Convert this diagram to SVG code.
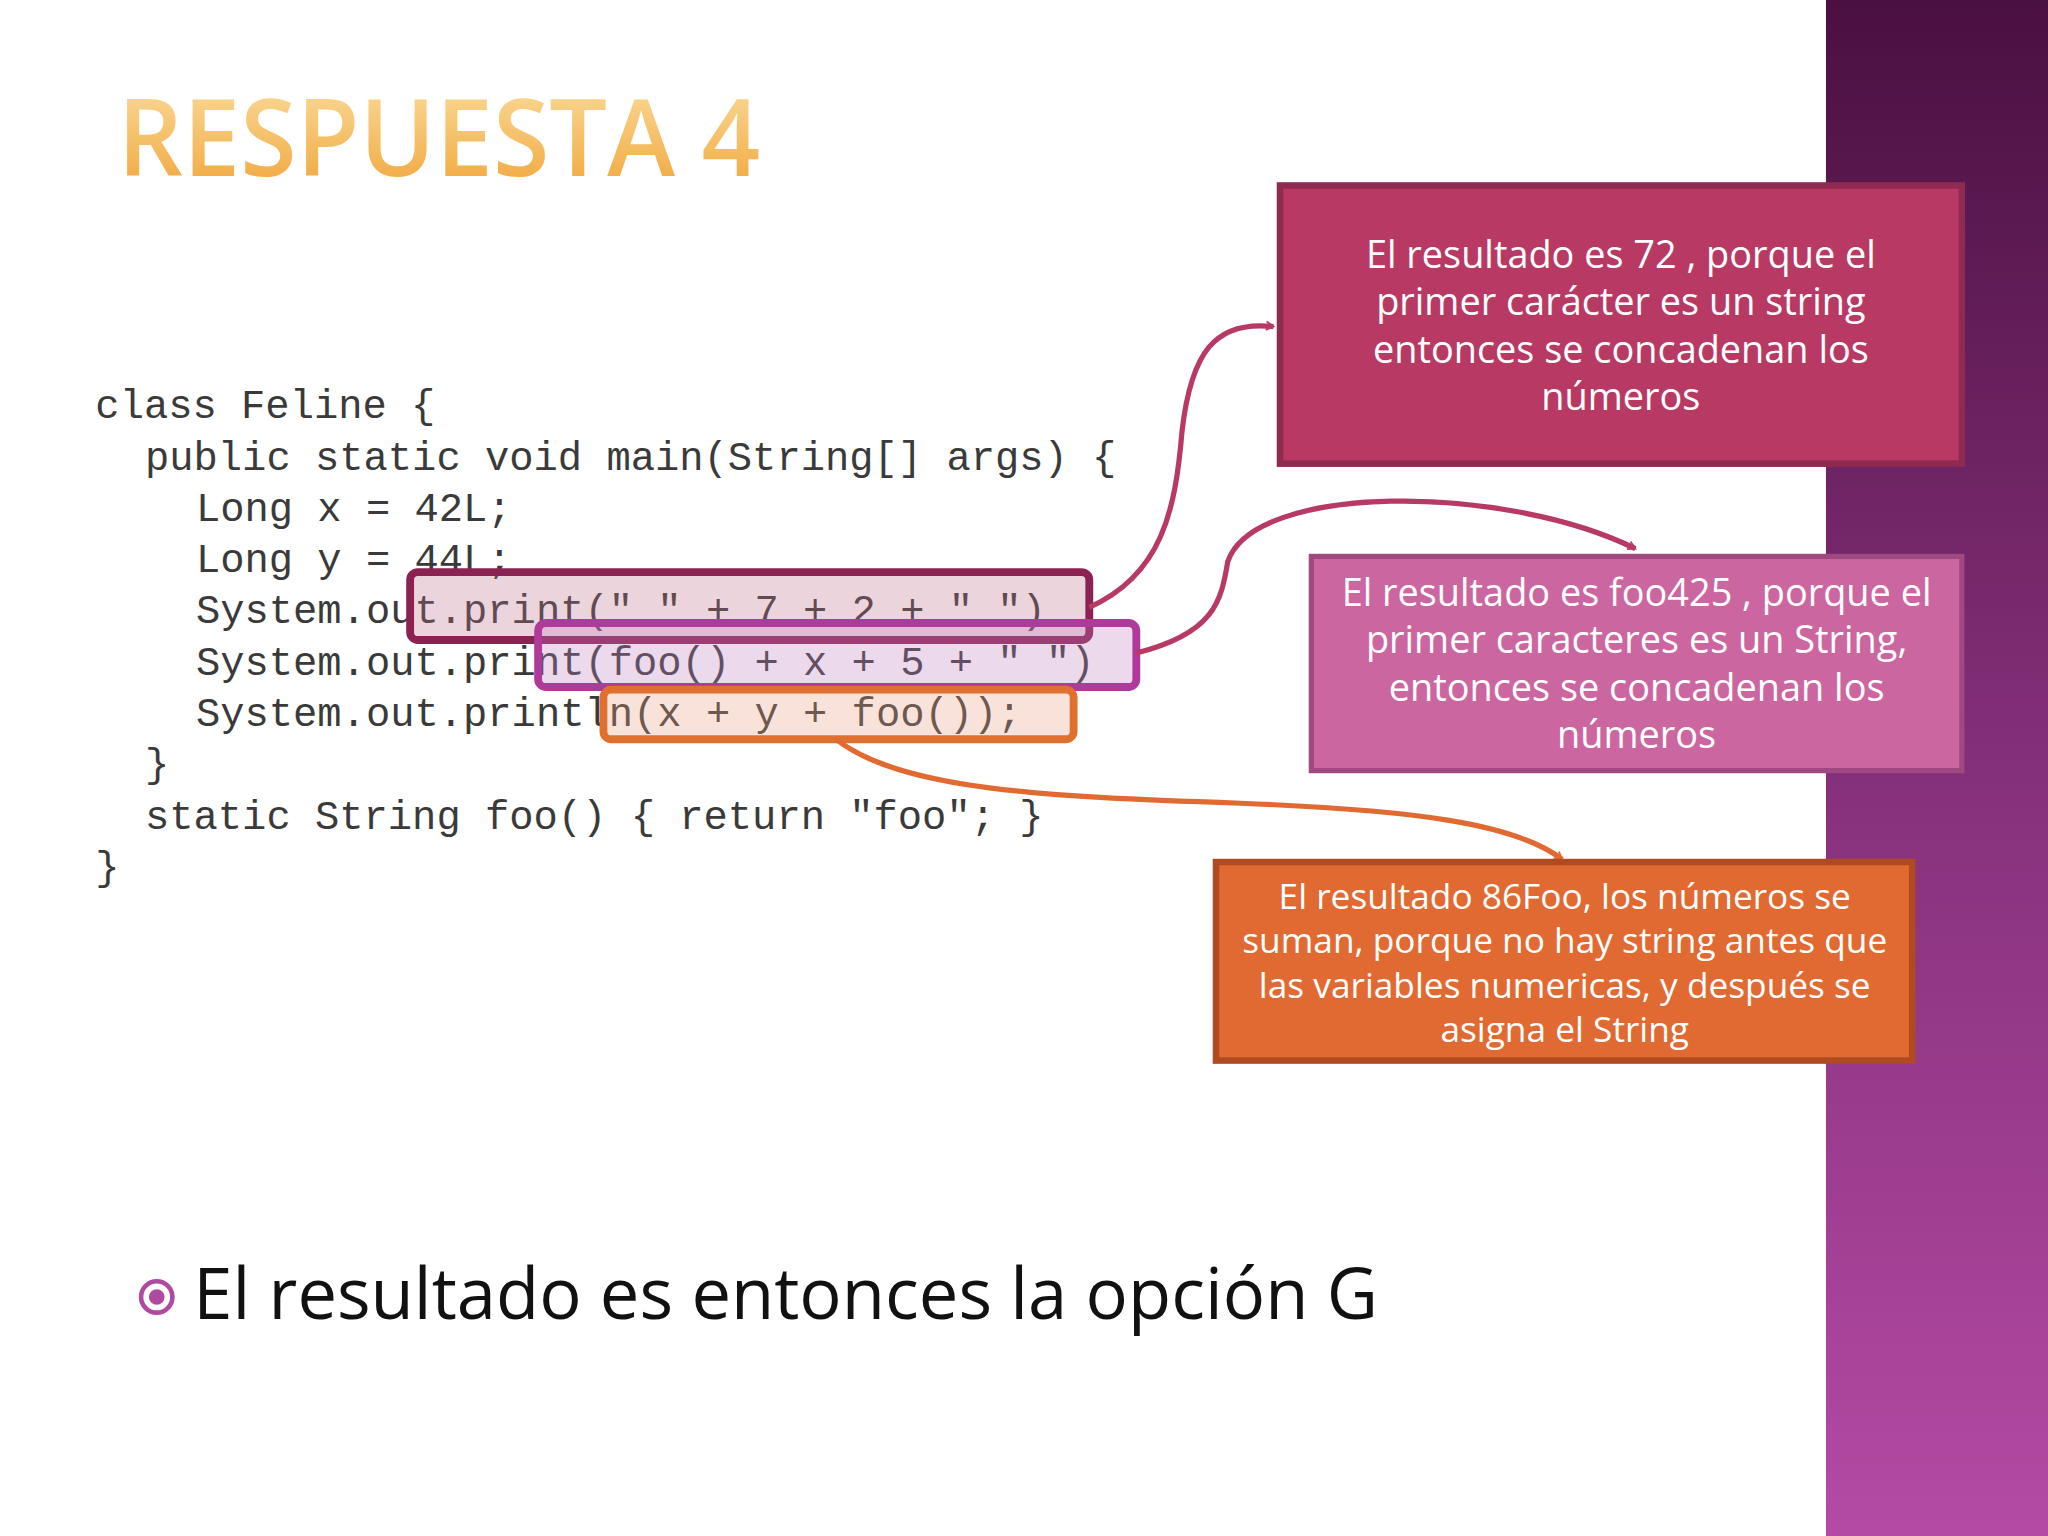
<svg xmlns="http://www.w3.org/2000/svg" width="2048" height="1536" viewBox="0 0 2048 1536">
<defs>
<linearGradient id="band" x1="0" y1="0" x2="0" y2="1"><stop offset="0" stop-color="#4a1040"/><stop offset="0.5" stop-color="#85307a"/><stop offset="1" stop-color="#b44aa4"/></linearGradient>
<linearGradient id="title" x1="0" y1="0" x2="0" y2="1"><stop offset="0" stop-color="#fbe3a8"/><stop offset="1" stop-color="#f0a030"/></linearGradient>
<marker id="m1" viewBox="0 0 20 20" refX="16" refY="10" markerWidth="8" markerHeight="8" orient="auto" markerUnits="userSpaceOnUse"><path d="M2,2 L16,10 L2,18" fill="none" stroke="#b83a64" stroke-width="3.5"/></marker>
<marker id="m2" viewBox="0 0 20 20" refX="16" refY="10" markerWidth="8" markerHeight="8" orient="auto" markerUnits="userSpaceOnUse"><path d="M2,2 L16,10 L2,18" fill="none" stroke="#b83a64" stroke-width="3.5"/></marker>
<marker id="m3" viewBox="0 0 20 20" refX="16" refY="10" markerWidth="8" markerHeight="8" orient="auto" markerUnits="userSpaceOnUse"><path d="M2,2 L16,10 L2,18" fill="none" stroke="#e06a32" stroke-width="3.5"/></marker>
</defs>
<style>
.code{font-family:"Liberation Mono",monospace;font-size:31px;fill:#3a3a3a}
.nt{font-family:"Open Sans","Noto Sans",sans-serif;fill:#fff;text-anchor:middle}
.hl{stroke-width:6}
</style>
<rect width="2048" height="1536" fill="#fff"/>
<g transform="scale(1.30612)">
<rect x="1398" y="0" width="170" height="1176" fill="url(#band)"/>
<text x="90" y="135" font-family="Open Sans,sans-serif" font-weight="600" font-size="82" fill="url(#title)" textLength="492" lengthAdjust="spacingAndGlyphs">RESPUESTA 4</text>
<g id="code">
<text class="code" x="73" y="320">class Feline {</text>
<text class="code" x="111" y="360">public static void main(String[] args) {</text>
<text class="code" x="150" y="399">Long x = 42L;</text>
<text class="code" x="150" y="438">Long y = 44L;</text>
<text class="code" x="150" y="477">System.out.print(" " + 7 + 2 + " ")</text>
<text class="code" x="150" y="517">System.out.print(foo() + x + 5 + " ")</text>
<text class="code" x="150" y="556">System.out.println(x + y + foo());</text>
<text class="code" x="111" y="595">}</text>
<text class="code" x="111" y="635">static String foo() { return "foo"; }</text>
<text class="code" x="73" y="674">}</text>
</g>
<g id="highlights">
<rect class="hl" x="314" y="438" width="520" height="52" rx="6" fill="#c07090" fill-opacity="0.3" stroke="#8b2252"/>
<rect class="hl" x="412" y="477" width="458" height="49" rx="6" fill="#c080c0" fill-opacity="0.3" stroke="#b03a9a"/>
<rect class="hl" x="462" y="528" width="360" height="38" rx="6" fill="#e8a080" fill-opacity="0.3" stroke="#e07030"/>
</g>
<g id="connectors" fill="none" stroke-width="4">
<path d="M834,465 C890,440 900,390 905,330 C912,270 930,245 975,250" stroke="#b83a64" marker-end="url(#m1)"/>
<path d="M870,500 C930,485 935,460 940,430 C960,370 1150,370 1252,420" stroke="#b83a64" marker-end="url(#m2)"/>
<path d="M640,566 C690,605 800,610 950,615 C1080,620 1160,630 1196,658" stroke="#e06a32" marker-end="url(#m3)"/>
</g>
<g id="node1">
<rect x="980" y="142" width="522" height="213" fill="#b83a64" stroke="#8f2a50" stroke-width="5"/>
<text class="nt" font-size="29"><tspan x="1241" y="205">El resultado es  72 , porque el</tspan><tspan x="1241" y="241">primer carácter es un string</tspan><tspan x="1241" y="278">entonces se concadenan los</tspan><tspan x="1241" y="314">números</tspan></text>
</g>
<g id="node2">
<rect x="1004" y="426" width="498" height="164" fill="#cc66a0" stroke="#a04880" stroke-width="4"/>
<text class="nt" font-size="29"><tspan x="1253" y="464">El resultado es foo425 , porque el</tspan><tspan x="1253" y="500">primer caracteres es un String,</tspan><tspan x="1253" y="537">entonces se concadenan los</tspan><tspan x="1253" y="573">números</tspan></text>
</g>
<g id="node3">
<rect x="931" y="660" width="533" height="152" fill="#e06a32" stroke="#b04a20" stroke-width="5"/>
<text class="nt" font-size="27"><tspan x="1198" y="696">El resultado 86Foo, los números se</tspan><tspan x="1198" y="730">suman, porque no hay string antes que</tspan><tspan x="1198" y="764">las variables numericas, y después se</tspan><tspan x="1198" y="798">asigna el String</tspan></text>
</g>
<g id="bullet">
<circle cx="120" cy="993" r="12" fill="none" stroke="#b04aa0" stroke-width="3.5"/>
<circle cx="120" cy="993" r="6" fill="#b04aa0"/>
<text x="148" y="1010" font-family="Open Sans,sans-serif" font-size="54" fill="#111">El resultado es entonces la opción G</text>
</g>
</g>
</svg>
